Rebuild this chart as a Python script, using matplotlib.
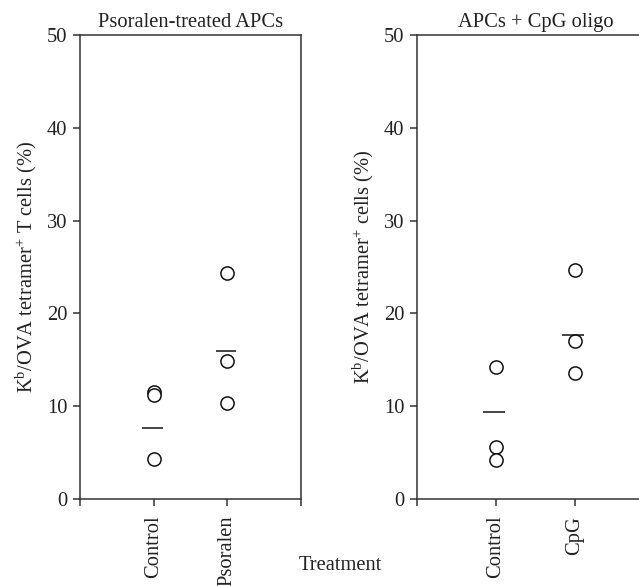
import matplotlib
matplotlib.use("Agg")
import matplotlib.pyplot as plt

# Data
left_title = "Psoralen-treated APCs"
right_title = "APCs + CpG oligo"
left_categories = ["Control", "Psoralen"]
right_categories = ["Control", "CpG"]
left_control = [11.5, 11.2, 4.3]
left_psoralen = [24.4, 14.9, 10.3]
left_means = [7.6, 15.9]
right_control = [14.2, 5.6, 4.2]
right_cpg = [24.7, 17.0, 13.6]
right_means = [9.4, 17.7]
yticks = [0, 10, 20, 30, 40, 50]

plt.rcParams['font.family'] = ['Liberation Serif', 'DejaVu Serif']
plt.rcParams['mathtext.fontset'] = 'custom'
plt.rcParams['mathtext.rm'] = 'Liberation Serif'
plt.rcParams['mathtext.it'] = 'Liberation Serif:italic'

line_col = '#333333'
text_col = '#222222'
fs = 14.8

fig = plt.figure(figsize=(6.39, 5.86), dpi=100)
axL = fig.add_axes([80/639, 1-499/586, 221/639, 464/586])
axR = fig.add_axes([417/639, 1-499/586, 237/639, 464/586])

def draw(ax, cats, groups, means, title, ylabel, show_right):
    for i, vals in enumerate(groups):
        x = [i + 1] * len(vals)
        ax.plot(x, vals, linestyle='none', marker='o', markersize=9.5,
                markerfacecolor='white', markeredgecolor='#111111', markeredgewidth=1.1)
    for i, m in enumerate(means):
        ax.hlines(m, i + 1 - 0.16, i + 1 + 0.12, color='#111111', linewidth=1.1)
    ax.set_xlim(0, 3)
    ax.set_ylim(0, 50)
    ax.set_xticks([0, 1, 2, 3])
    ax.set_xticklabels([''] + cats + [''], rotation=90, fontsize=fs, color=text_col)
    ax.set_yticks(yticks)
    ax.set_yticklabels([str(t) for t in yticks], fontsize=fs, color=text_col)
    ax.tick_params(direction='out', length=5, width=1.1, color=line_col)
    ax.tick_params(axis='x', pad=7)
    ax.tick_params(axis='y', pad=4)
    for s in ax.spines.values():
        s.set_color(line_col)
        s.set_linewidth(1.1)
    ax.spines['right'].set_visible(show_right)
    ax.set_title(title, fontsize=fs, color=text_col, pad=6)
    ax.set_ylabel(ylabel, fontsize=fs, color=text_col, labelpad=6)

draw(axL, left_categories, [left_control, left_psoralen], left_means, left_title,
     r"K$^{\mathrm{b}}$/OVA tetramer$^{+}$ T cells (%)", True)
draw(axR, right_categories, [right_control, right_cpg], right_means, right_title,
     r"K$^{\mathrm{b}}$/OVA tetramer$^{+}$ cells (%)", True)

fig.text(340/639, 1-566/586, "Treatment", ha='center', va='center', fontsize=fs, color=text_col)

fig.savefig("out.png", dpi=100)
